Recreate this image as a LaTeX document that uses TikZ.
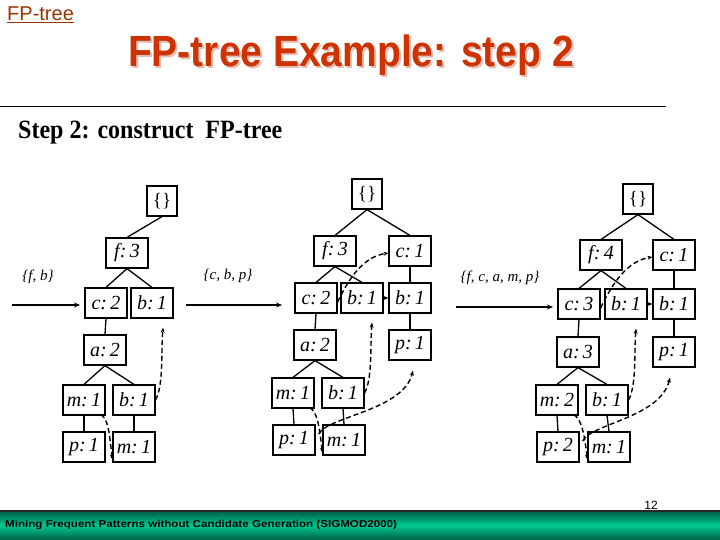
\documentclass[tikz,border=0pt]{standalone}
\usepackage{fontspec}
\setmainfont{Liberation Serif}
\newfontfamily\arialf{Liberation Sans}
\usetikzlibrary{arrows.meta}
\definecolor{titlered}{RGB}{204,51,0}
\definecolor{titleshadow}{RGB}{225,190,180}
\definecolor{linkbrown}{RGB}{153,51,0}
\definecolor{footdark}{RGB}{0,95,70}
\definecolor{footmid}{RGB}{0,200,145}
\tikzset{
  box/.style={draw, line width=1.2pt, minimum width=42pt, minimum height=30pt, inner sep=0pt,
    font=\fontsize{20}{20}\selectfont\itshape},
  rootbox/.style={box, minimum width=30pt, font=\fontsize{19}{19}\selectfont},
  edge/.style={line width=1.3pt},
  nlink/.style={line width=1.4pt, dash pattern=on 5pt off 3pt, -{Stealth[length=5pt,width=4pt]}},
  slink/.style={line width=1.4pt, -{Stealth[length=5pt,width=4pt]}},
  inarrow/.style={line width=1.3pt, -{Stealth[length=6pt,width=5pt]}},
  setlabel/.style={font=\fontsize{15}{15}\selectfont\itshape, inner sep=0pt}
}
\begin{document}
\begin{tikzpicture}[x=1pt,y=-1pt]
\useasboundingbox (0,0) rectangle (720,540);
% header
\node[anchor=base west, inner sep=0pt, text=linkbrown, font=\arialf\fontsize{20}{20}\selectfont] (hdr) at (7,21) {\underline{FP-tree}};
\node[text=titleshadow, font=\arialf\bfseries\fontsize{39}{39}\selectfont, inner sep=0pt] (titlesh) at (353,57) {\scalebox{1}[1.12]{FP-tree Example: step 2}};
\node[text=titlered, font=\arialf\bfseries\fontsize{39}{39}\selectfont, inner sep=0pt] (title) at (351,55) {\scalebox{1}[1.12]{FP-tree Example: step 2}};
\coordinate (hl1) at (0,107);
\coordinate (hl2) at (666,107);
\draw[line width=1pt] (hl1) -- (hl2);
\node[anchor=west, inner sep=0pt, font=\bfseries\fontsize{24}{24}\selectfont] (step) at (18,133) {\scalebox{1}[1.1]{Step 2: construct\ \ FP-tree}};

% ---------- tree 1 ----------
\node[rootbox] (r1) at (162,201) {\{\}};
\node[box] (f1) at (127,253) {f:\,3};
\node[box] (c1) at (106,303) {c:\,2};
\node[box] (b1) at (152,303) {b:\,1};
\node[box] (a1) at (105,350) {a:\,2};
\node[box] (m1) at (84,400) {m:\,1};
\node[box] (bb1) at (134,400) {b:\,1};
\node[box] (p1) at (84,447) {p:\,1};
\node[box] (mm1) at (134,447) {m:\,1};
\draw[edge] (r1.south) -- (f1.north);
\draw[edge] (f1.south) -- (c1.north);
\draw[edge] (f1.south) -- (b1.north);
\draw[edge] (c1.south) -- (a1.north);
\draw[edge] (a1.south) -- (m1.north);
\draw[edge] (a1.south) -- (bb1.north);
\draw[edge] (m1.south) -- (p1.north);
\draw[edge] (bb1.south) -- (mm1.north);
\draw[nlink] ([shift={(-5,-1)}]m1.south east) .. controls +(8,4) and +(-3,-25) .. ([shift={(0,-3)}]mm1.south west);
\draw[nlink] (bb1.east) .. controls +(8,-15) and +(-2,25) .. ([shift={(11,9)}]b1.south);
\coordinate (in1a) at (12,305);
\coordinate (in1b) at (80,305);
\draw[inarrow] (in1a) -- (in1b);
\node[setlabel] (l1) at (38,277) {\{f, b\}};

% ---------- tree 2 ----------
\node[rootbox] (r2) at (367,194) {\{\}};
\node[box] (f2) at (335,251) {f:\,3};
\node[box] (cr2) at (410,251) {c:\,1};
\node[box] (c2) at (316,298) {c:\,2};
\node[box] (b2) at (362,298) {b:\,1};
\node[box] (br2) at (410,298) {b:\,1};
\node[box] (a2) at (315,345) {a:\,2};
\node[box] (pr2) at (410,345) {p:\,1};
\node[box] (m2) at (293,393) {m:\,1};
\node[box] (bb2) at (343,393) {b:\,1};
\node[box] (p2) at (294,440) {p:\,1};
\node[box] (mm2) at (344,440) {m:\,1};
\draw[edge] (r2.south) -- (f2.north);
\draw[edge] (r2.south) -- (cr2.north);
\draw[edge] (f2.south) -- (c2.north);
\draw[edge] (f2.south) -- (b2.north);
\draw[edge] (cr2.south) -- (br2.north);
\draw[edge] (br2.south) -- (pr2.north);
\draw[edge] (c2.south) -- (a2.north);
\draw[edge] (a2.south) -- (m2.north);
\draw[edge] (a2.south) -- (bb2.north);
\draw[edge] (m2.south) -- (p2.north);
\draw[edge] (bb2.south) -- (mm2.north);
\draw[nlink] ([shift={(-5,-1)}]m2.south east) .. controls +(8,4) and +(-3,-25) .. ([shift={(0,-3)}]mm2.south west);
\draw[nlink] (bb2.east) .. controls +(8,-15) and +(-2,25) .. ([shift={(10,9)}]b2.south);
\draw[nlink] ([shift={(0,4)}]c2.east) .. controls +(12,-25) and +(-25,4) .. ([shift={(0,2)}]cr2.west);
\draw[slink] (b2.east) -- (br2.west);
\draw[nlink] ([shift={(3,-6)}]p2.east) .. controls +(10,-18) and +(-10,40) .. ([shift={(3,10)}]pr2.south);
\coordinate (in2a) at (186,305);
\coordinate (in2b) at (282,305);
\draw[inarrow] (in2a) -- (in2b);
\node[setlabel] (l2) at (228,276) {\{c, b, p\}};

% ---------- tree 3 ----------
\node[rootbox] (r3) at (638,199) {\{\}};
\node[box] (f3) at (601,255) {f:\,4};
\node[box] (cr3) at (674,255) {c:\,1};
\node[box] (c3) at (579,304) {c:\,3};
\node[box] (b3) at (626,304) {b:\,1};
\node[box] (br3) at (674,304) {b:\,1};
\node[box] (a3) at (578,352) {a:\,3};
\node[box] (pr3) at (674,352) {p:\,1};
\node[box] (m3) at (557,400) {m:\,2};
\node[box] (bb3) at (607,400) {b:\,1};
\node[box] (p3) at (558,447) {p:\,2};
\node[box] (mm3) at (609,447) {m:\,1};
\draw[edge] (r3.south) -- (f3.north);
\draw[edge] (r3.south) -- (cr3.north);
\draw[edge] (f3.south) -- (c3.north);
\draw[edge] (f3.south) -- (b3.north);
\draw[edge] (cr3.south) -- (br3.north);
\draw[edge] (br3.south) -- (pr3.north);
\draw[edge] (c3.south) -- (a3.north);
\draw[edge] (a3.south) -- (m3.north);
\draw[edge] (a3.south) -- (bb3.north);
\draw[edge] (m3.south) -- (p3.north);
\draw[edge] (bb3.south) -- (mm3.north);
\draw[nlink] ([shift={(-5,-1)}]m3.south east) .. controls +(8,4) and +(-3,-25) .. ([shift={(0,-3)}]mm3.south west);
\draw[nlink] (bb3.east) .. controls +(8,-15) and +(-2,25) .. ([shift={(10,9)}]b3.south);
\draw[nlink] ([shift={(0,4)}]c3.east) .. controls +(12,-25) and +(-25,4) .. ([shift={(0,2)}]cr3.west);
\draw[slink] (b3.east) -- (br3.west);
\draw[nlink] ([shift={(3,-6)}]p3.east) .. controls +(10,-18) and +(-10,40) .. ([shift={(-4,10)}]pr3.south);
\coordinate (in3a) at (456,307);
\coordinate (in3b) at (553,307);
\draw[inarrow] (in3a) -- (in3b);
\node[setlabel] (l3) at (500,278) {\{f, c, a, m, p\}};

% ---------- footer ----------
\node[inner sep=0pt, font=\arialf\fontsize{12}{12}\selectfont] (pg) at (651,505) {12};
\shade[top color=footdark, bottom color=footdark, middle color=footmid] (0,511) rectangle (720,540);
\coordinate (fl1) at (0,511);
\coordinate (fl2) at (720,511);
\draw[line width=1.2pt, black!85] (fl1) -- (fl2);
\node[anchor=west, inner sep=0pt, font=\arialf\bfseries\fontsize{10}{10}\selectfont] (foot) at (5,525) {\scalebox{1.16}[1]{Mining Frequent Patterns without Candidate Generation (SIGMOD2000)}};
\end{tikzpicture}
\end{document}
